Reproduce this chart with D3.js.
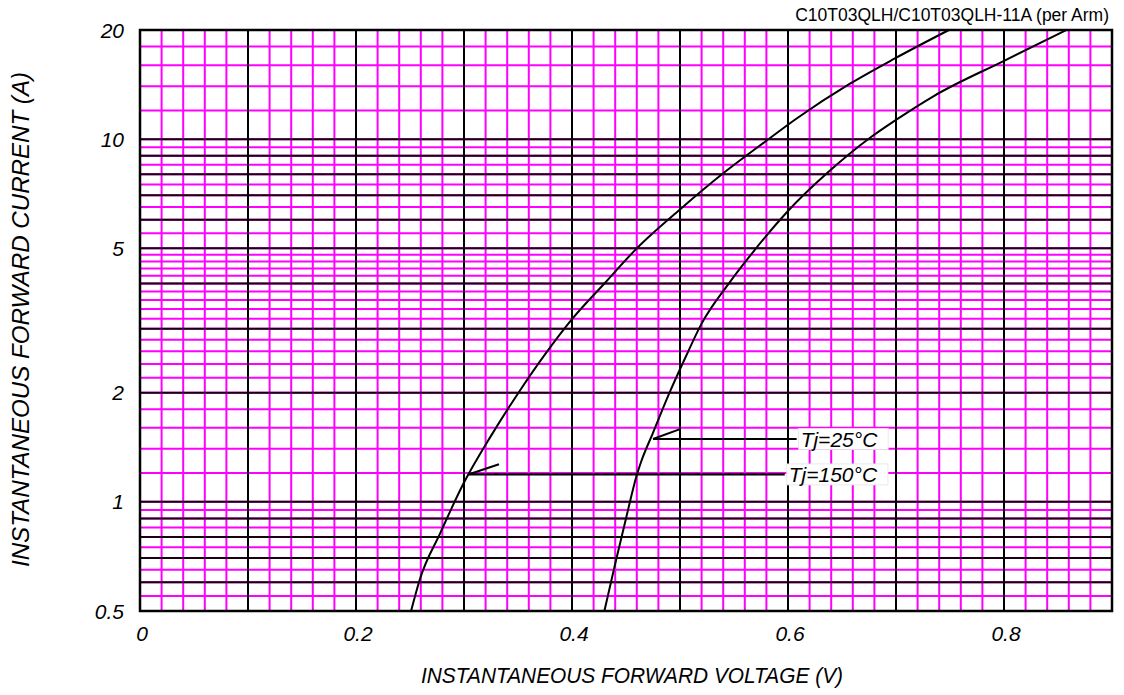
<!DOCTYPE html>
<html>
<head>
<meta charset="utf-8">
<script src="https://cdn.jsdelivr.net/npm/d3@7"></script>
<style>
  html, body { margin: 0; padding: 0; background: #fff; }
  svg { display: block; font-family: "Liberation Sans", Arial, sans-serif; }
</style>
</head>
<body>
<svg id="chart" width="1124" height="695"></svg>
<script>
// Forward characteristics (V, A)
const tj25Voltage = [0.430, 0.440, 0.450, 0.460, 0.464, 0.475, 0.490, 0.505, 0.520, 0.546, 0.568, 0.600, 0.636, 0.676, 0.700, 0.735, 0.801, 0.858];
const tj25Current = [0.5, 0.675, 0.90, 1.186, 1.29, 1.55, 1.99, 2.50, 3.10, 4.03, 4.90, 6.34, 8.05, 10.09, 11.3, 13.15, 16.5, 20];

const tj150Voltage = [0.251, 0.259, 0.278, 0.300, 0.325, 0.350, 0.375, 0.400, 0.430, 0.460, 0.500, 0.540, 0.580, 0.608, 0.657, 0.699, 0.749];
const tj150Current = [0.5, 0.61, 0.82, 1.13, 1.52, 1.99, 2.55, 3.19, 4.0, 5.0, 6.4, 8.05, 9.9, 11.4, 14.2, 16.7, 20];

const xTickLabels = [0, 0.2, 0.4, 0.6, 0.8];
const yTickLabels = [0.5, 1, 2, 5, 10, 20];

// grid structure: [from, to, step]
const xMajorGrid = [0, 0.9, 0.1];
const xMinorGrid = [0, 0.9, 0.02];
const yMajorGrid = [[0.5, 1, 0.1], [1, 10, 1], [10, 20, 10]];
const yMinorGrid = [[0.5, 1, 0.05], [1, 5, 0.2], [5, 10, 0.5], [10, 20, 2]];

// leader labels: text, curve point (V, A), kink point (V, A), label start V
const annotations = [
  { text: 'Tj=25\u00b0C',  at: [0.475, 1.49], kink: [0.500, 1.587], toV: 0.608 },
  { text: 'Tj=150\u00b0C', at: [0.304, 1.19], kink: [0.3324, 1.27], toV: 0.597 }
];

const title = 'C10T03QLH/C10T03QLH-11A (per Arm)';
const xTitle = 'INSTANTANEOUS FORWARD VOLTAGE (V)';
const yTitle = 'INSTANTANEOUS FORWARD CURRENT (A)';

const svg = d3.select('#chart');
const plotLeft = 140, plotRight = 1112, plotTop = 30, plotBottom = 611;

const x = d3.scaleLinear().domain([0, 0.9]).range([plotLeft, plotRight]);
const y = d3.scaleLog().domain([0.5, 20]).range([plotBottom, plotTop]);

function steps([a, b, s]) {
  const n = Math.round((b - a) / s);
  return d3.range(n + 1).map(i => +(a + i * s).toFixed(4));
}

const xMinor = steps(xMinorGrid);
const xMajor = steps(xMajorGrid);
const yMinor = Array.from(new Set(yMinorGrid.flatMap(steps)));
const yMajor = Array.from(new Set(yMajorGrid.flatMap(steps)));

const grid = svg.append('g');

// magenta minor lines
grid.selectAll('.ym').data(yMinor).enter().append('line')
  .attr('x1', plotLeft).attr('x2', plotRight)
  .attr('y1', d => y(d)).attr('y2', d => y(d))
  .attr('stroke', '#ff00ff').attr('stroke-width', 2);
grid.selectAll('.xm').data(xMinor).enter().append('line')
  .attr('y1', plotTop).attr('y2', plotBottom)
  .attr('x1', d => x(d)).attr('x2', d => x(d))
  .attr('stroke', '#ff00ff').attr('stroke-width', 2);

// black major lines
grid.selectAll('.yM').data(yMajor).enter().append('line')
  .attr('x1', plotLeft).attr('x2', plotRight)
  .attr('y1', d => y(d)).attr('y2', d => y(d))
  .attr('stroke', '#1a0012').attr('stroke-width', 2);
grid.selectAll('.xM').data(xMajor).enter().append('line')
  .attr('y1', plotTop).attr('y2', plotBottom)
  .attr('x1', d => x(d)).attr('x2', d => x(d))
  .attr('stroke', '#000').attr('stroke-width', 2);

svg.append('rect')
  .attr('x', plotLeft).attr('y', plotTop)
  .attr('width', plotRight - plotLeft).attr('height', plotBottom - plotTop)
  .attr('fill', 'none').attr('stroke', '#000').attr('stroke-width', 2.5);

// curves
const line = d3.line()
  .x(d => x(d[0])).y(d => y(d[1]))
  .curve(d3.curveMonotoneX);
const series = [
  d3.zip(tj25Voltage, tj25Current),
  d3.zip(tj150Voltage, tj150Current)
];
svg.selectAll('.curve').data(series).enter().append('path')
  .attr('class', 'curve')
  .attr('d', line)
  .attr('fill', 'none')
  .attr('stroke', '#000')
  .attr('stroke-width', 2);

// leaders and labels
annotations.forEach(a => {
  const yy = y(a.at[1]);
  svg.append('line')
    .attr('x1', x(a.at[0])).attr('y1', yy)
    .attr('x2', x(a.toV)).attr('y2', yy)
    .attr('stroke', '#000').attr('stroke-width', 2.2);
  svg.append('line')
    .attr('x1', x(a.at[0])).attr('y1', yy)
    .attr('x2', x(a.kink[0])).attr('y2', y(a.kink[1]))
    .attr('stroke', '#000').attr('stroke-width', 2);
  const g = svg.append('g');
  const t = g.append('text')
    .attr('x', x(a.toV) + 4).attr('y', yy + 7.5)
    .attr('font-size', 21).attr('font-style', 'italic')
    .attr('fill', '#000')
    .text(a.text);
  const bb = t.node().getBBox();
  g.insert('rect', 'text')
    .attr('x', bb.x - 2).attr('y', bb.y + 1)
    .attr('width', bb.width + 12).attr('height', bb.height - 2)
    .attr('fill', '#fff').attr('stroke', '#e4e4e4').attr('stroke-width', 0.8);
});

// tick labels
svg.selectAll('.yt').data(yTickLabels).enter().append('text')
  .attr('x', 124).attr('y', d => y(d) + 7.5)
  .attr('text-anchor', 'end')
  .attr('font-size', 21).attr('font-style', 'italic')
  .text(d => String(d));

svg.selectAll('.xt').data(xTickLabels).enter().append('text')
  .attr('x', d => x(d) + 2).attr('y', 641)
  .attr('text-anchor', 'middle')
  .attr('font-size', 21).attr('font-style', 'italic')
  .text(d => String(d));

// titles
svg.append('text')
  .attr('x', 1109).attr('y', 21)
  .attr('text-anchor', 'end')
  .attr('font-size', 17.5)
  .text(title);

svg.append('text')
  .attr('x', 421).attr('y', 683)
  .attr('font-size', 22).attr('font-style', 'italic')
  .attr('textLength', 422).attr('lengthAdjust', 'spacingAndGlyphs')
  .text(xTitle);

svg.append('text')
  .attr('transform', 'translate(28.5,567) rotate(-90)')
  .attr('font-size', 23).attr('font-style', 'italic')
  .attr('textLength', 495).attr('lengthAdjust', 'spacingAndGlyphs')
  .text(yTitle);
</script>
</body>
</html>
